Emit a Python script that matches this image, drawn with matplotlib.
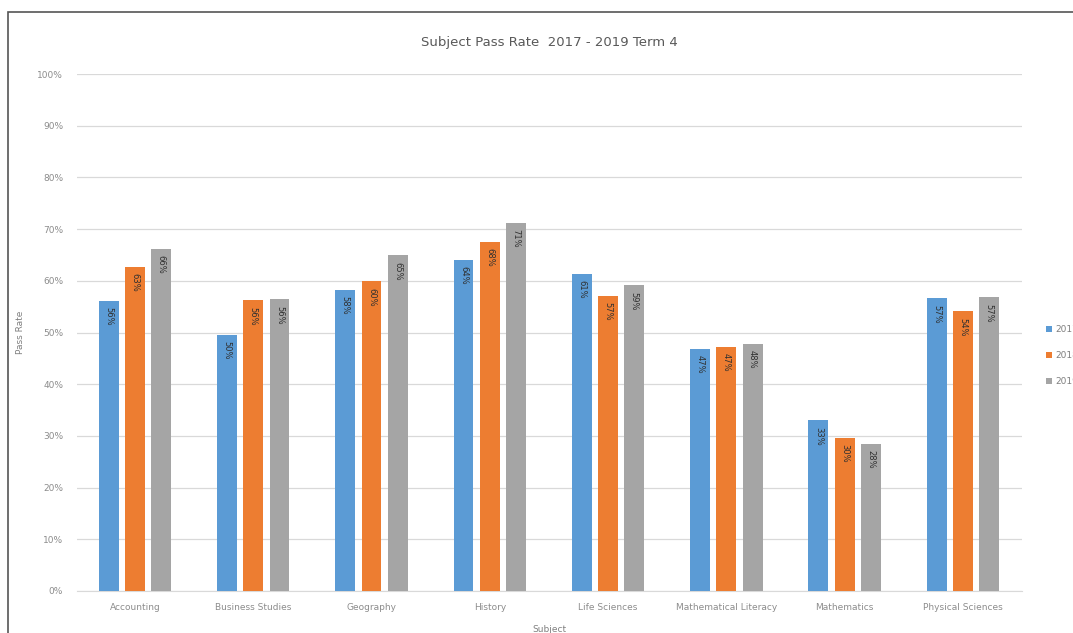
import numpy as np
import matplotlib
matplotlib.use("Agg")
import matplotlib.pyplot as plt
from matplotlib.patches import Rectangle

# Data
subjects = ["Accounting", "Business Studies", "Geography", "History", "Life Sciences",
            "Mathematical Literacy", "Mathematics", "Physical Sciences"]
years = ["2017", "2018", "2019"]
rate_2017 = [56.1, 49.6, 58.2, 64.0, 61.3, 46.8, 33.0, 56.6]
rate_2018 = [62.7, 56.2, 59.9, 67.6, 57.1, 47.2, 29.6, 54.1]
rate_2019 = [66.1, 56.4, 64.9, 71.2, 59.1, 47.8, 28.4, 56.8]
colours = ["#5B9BD5", "#ED7D31", "#A5A5A5"]

fig = plt.figure(figsize=(10.73, 6.33), dpi=100)
axis = fig.add_axes([77 / 1073, 42 / 633, 945 / 1073, 517 / 633])

x = np.arange(len(subjects))
width = 0.168
gap = 0.222
for i, (values, colour, year) in enumerate(zip([rate_2017, rate_2018, rate_2019], colours, years)):
    pos = x + (i - 1) * gap
    axis.bar(pos, values, width=width, color=colour, label=year, zorder=3)
    for p, v in zip(pos, values):
        axis.text(p, v - 1.2, f"{round(v)}%", rotation=270, ha="center", va="top",
                  fontsize=6, color="#303030", zorder=4)

axis.set_ylim(0, 100)
axis.set_xlim(-0.49, 7.5)
axis.set_yticks(np.arange(0, 101, 10))
axis.set_yticklabels([f"{t}%" for t in range(0, 101, 10)])
axis.set_xticks(x)
axis.set_xticklabels(subjects)
axis.tick_params(axis="both", length=0, labelsize=6.5, colors="#8C8C8C")
axis.tick_params(axis="y", pad=10)
axis.tick_params(axis="x", pad=9)
axis.grid(axis="y", color="#D9D9D9", linewidth=0.9, zorder=0)
for side in ["top", "right", "left"]:
    axis.spines[side].set_visible(False)
axis.spines["bottom"].set_color("#D9D9D9")

axis.set_title("Subject Pass Rate  2017 - 2019 Term 4", fontsize=9.5, color="#595959", pad=20)
axis.set_ylabel("Pass Rate", fontsize=6.5, color="#7F7F7F", labelpad=9)
axis.set_xlabel("Subject", fontsize=6.5, color="#7F7F7F", labelpad=9)

# legend sits at the right edge and is partly cut off, as in the source image
axis.legend(loc="center left", bbox_to_anchor=(1.017, 0.455), frameon=False, fontsize=6.5,
            labelcolor="#7F7F7F", handlelength=0.6, handleheight=0.6, handletextpad=0.4,
            labelspacing=1.9)

# outer chart border
fig.patches.append(Rectangle((8 / 1073, -0.01), 1.1, 1 - 12 / 633 + 0.01, transform=fig.transFigure,
                             fill=False, edgecolor="#555555", linewidth=1.2))

fig.savefig("out.png", dpi=100)
